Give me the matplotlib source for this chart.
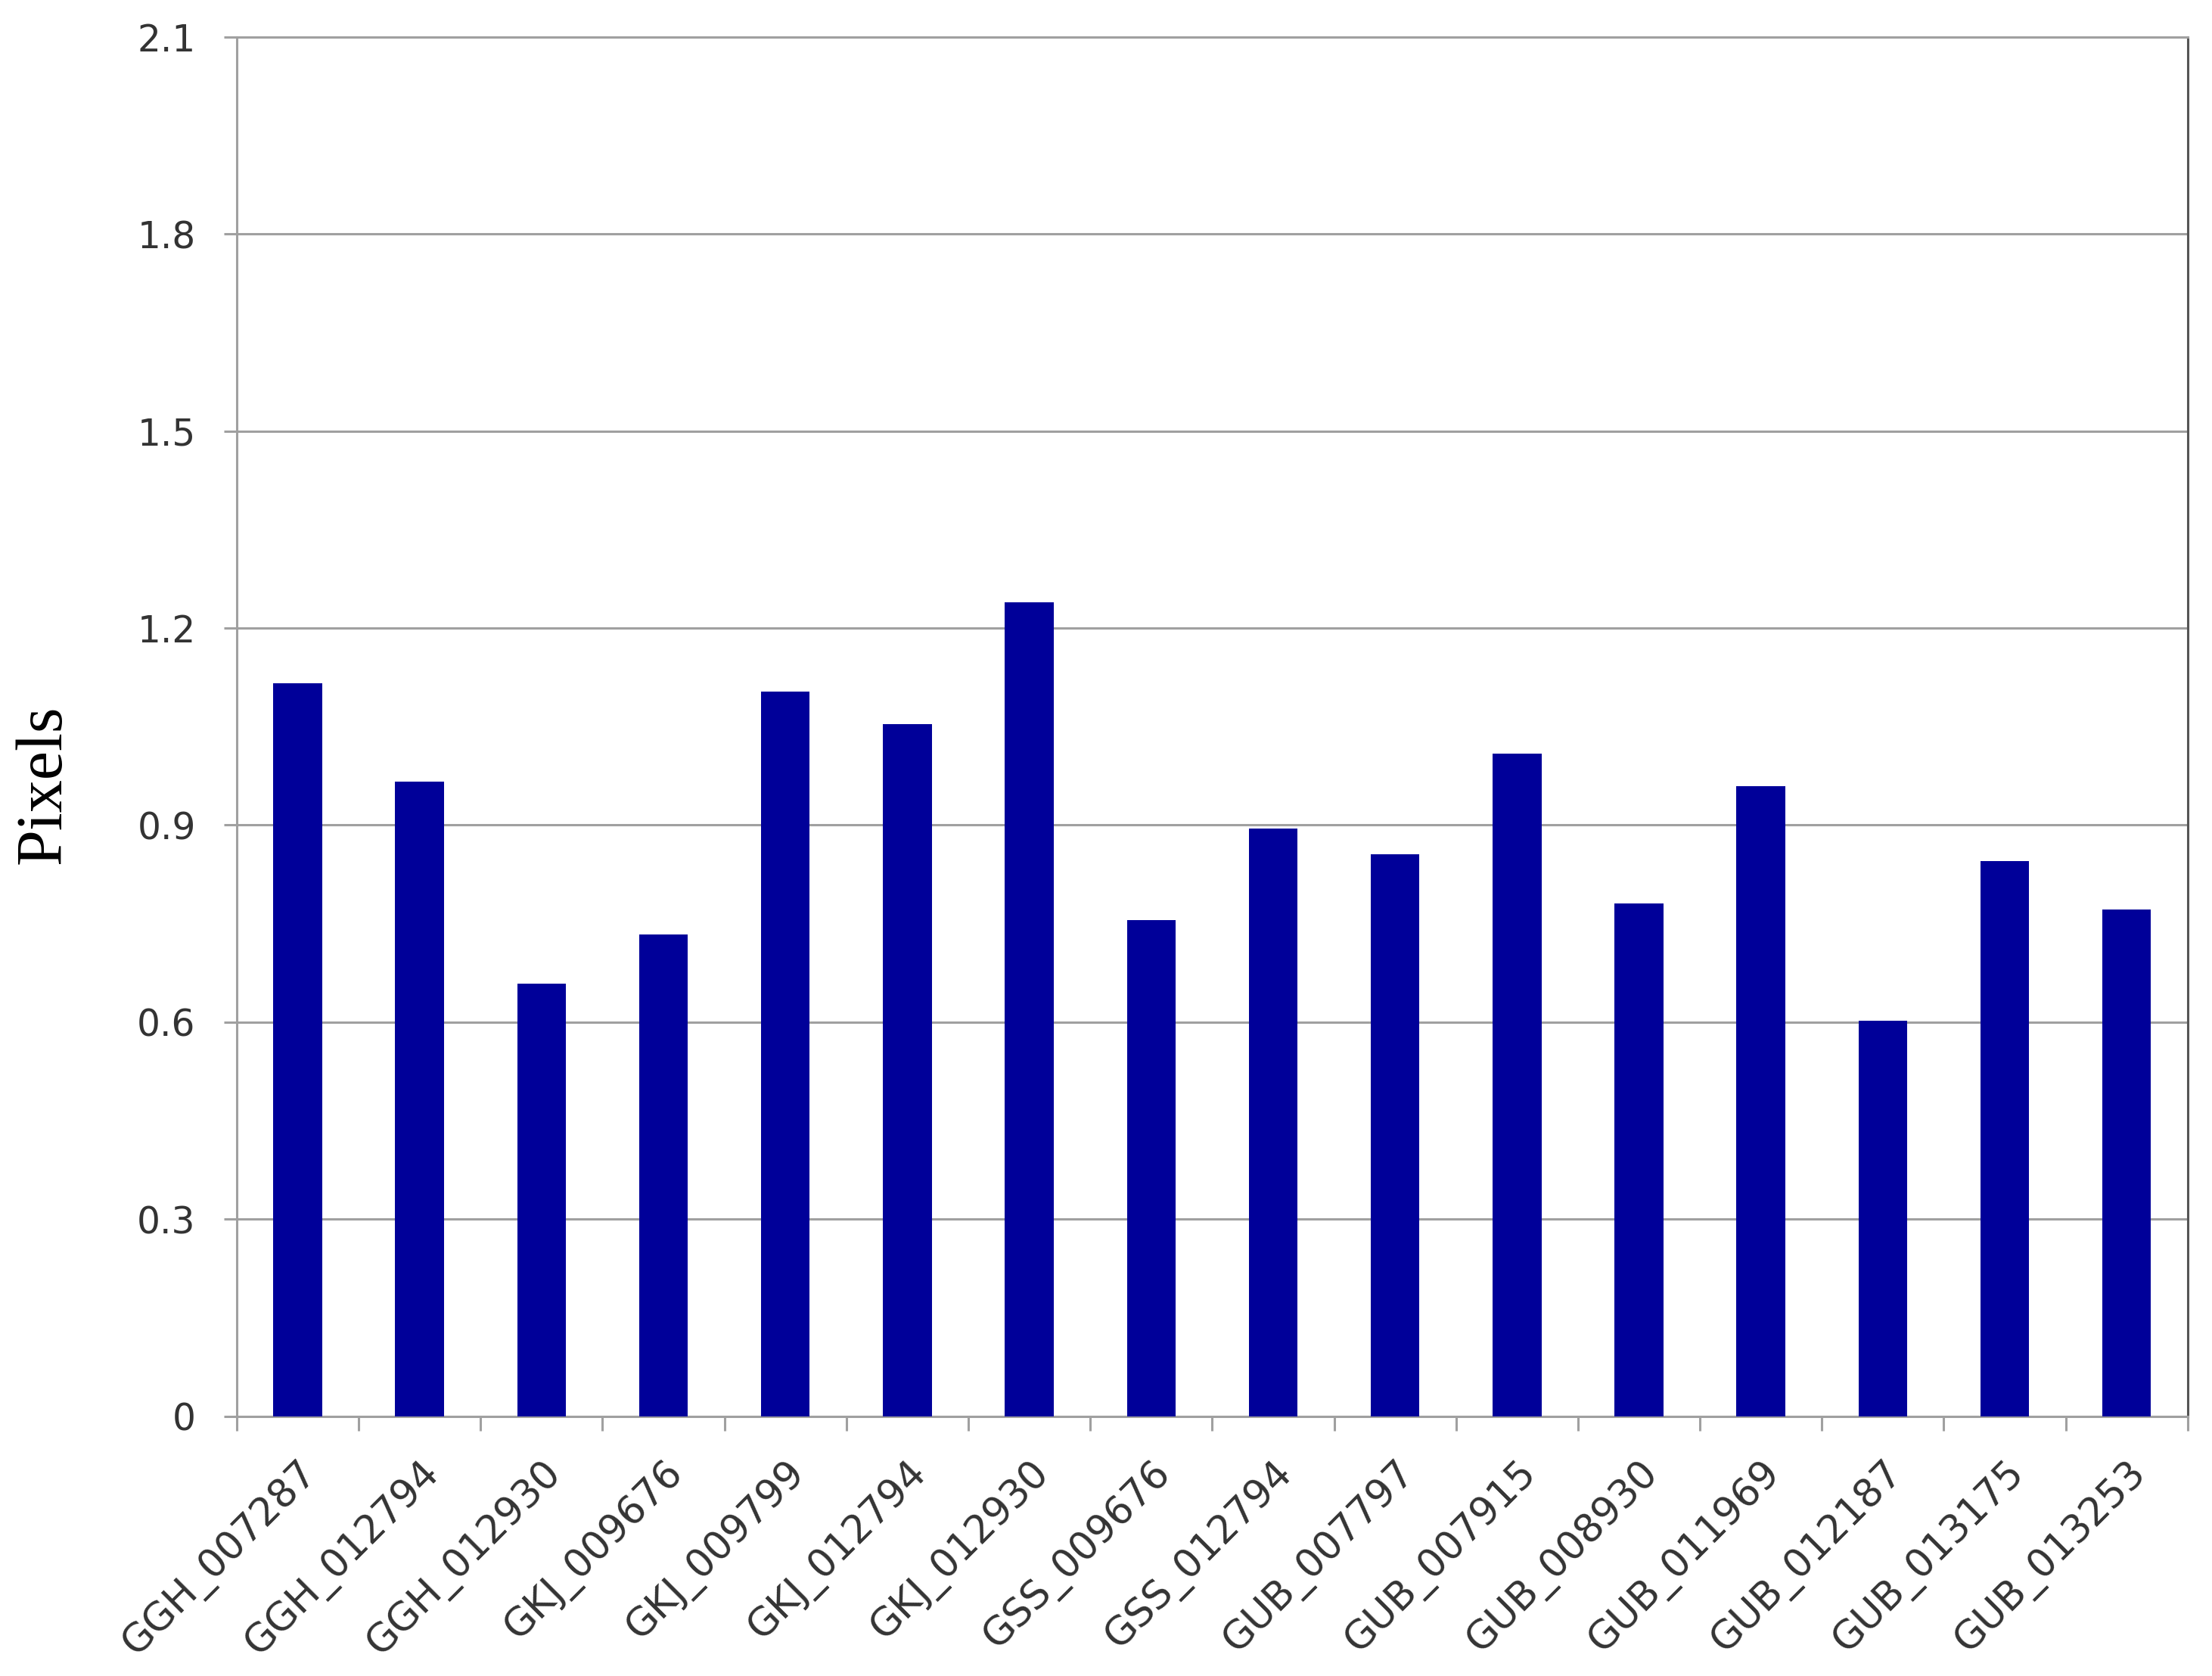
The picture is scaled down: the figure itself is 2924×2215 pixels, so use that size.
import matplotlib.pyplot as plt
import numpy as np

# values
genes = ["GGH_007287", "GGH_012794", "GGH_012930", "GKJ_009676", "GKJ_009799",
         "GKJ_012794", "GKJ_012930", "GSS_009676", "GSS_012794", "GUB_007797",
         "GUB_007915", "GUB_008930", "GUB_011969", "GUB_012187", "GUB_013175",
         "GUB_013253"]
pixels = [1.116, 0.966, 0.658, 0.733, 1.103, 1.054, 1.239, 0.755,
          0.895, 0.856, 1.009, 0.781, 0.959, 0.602, 0.845, 0.772]
yticks = [0, 0.3, 0.6, 0.9, 1.2, 1.5, 1.8, 2.1]

fig = plt.figure(figsize=(29.24, 22.15), dpi=100)
ax = fig.add_axes([0.107, 0.155, 0.882, 0.823])

x = np.arange(len(genes))
ax.bar(x, pixels, width=0.4, color="#000099", zorder=3)

ax.set_xlim(-0.5, len(genes) - 0.5)
ax.set_ylim(0, 2.1)
ax.set_yticks(yticks)
ax.set_yticklabels(["0" if v == 0 else f"{v:.1f}" for v in yticks],
                   fontsize=35, color="#333333")
ax.yaxis.grid(True, color="#a0a0a0", linewidth=2.2, zorder=0)
ax.tick_params(axis="y", length=12, width=2.2, color="#a0a0a0", pad=27)

# tick marks between categories, labels at the centres
ax.set_xticks(np.arange(len(genes) + 1) - 0.5)
ax.set_xticklabels([])
ax.tick_params(axis="x", which="major", length=14, width=2.2, color="#a0a0a0")
ax.set_xticks(x, minor=True)
ax.set_xticklabels(genes, minor=True, rotation=45, ha="right",
                   rotation_mode="anchor", fontsize=37, color="#333333")
ax.tick_params(axis="x", which="minor", length=0, pad=36)

for side in ["left", "top", "bottom"]:
    ax.spines[side].set_color("#a0a0a0")
    ax.spines[side].set_linewidth(2.2)
ax.spines["right"].set_color("#555555")
ax.spines["right"].set_linewidth(2.2)

ax.set_ylabel("Pixels", family="Liberation Serif", fontsize=62)
ax.yaxis.set_label_coords(-0.083, 0.458)

fig.savefig("out.png", dpi=100, facecolor="white")
